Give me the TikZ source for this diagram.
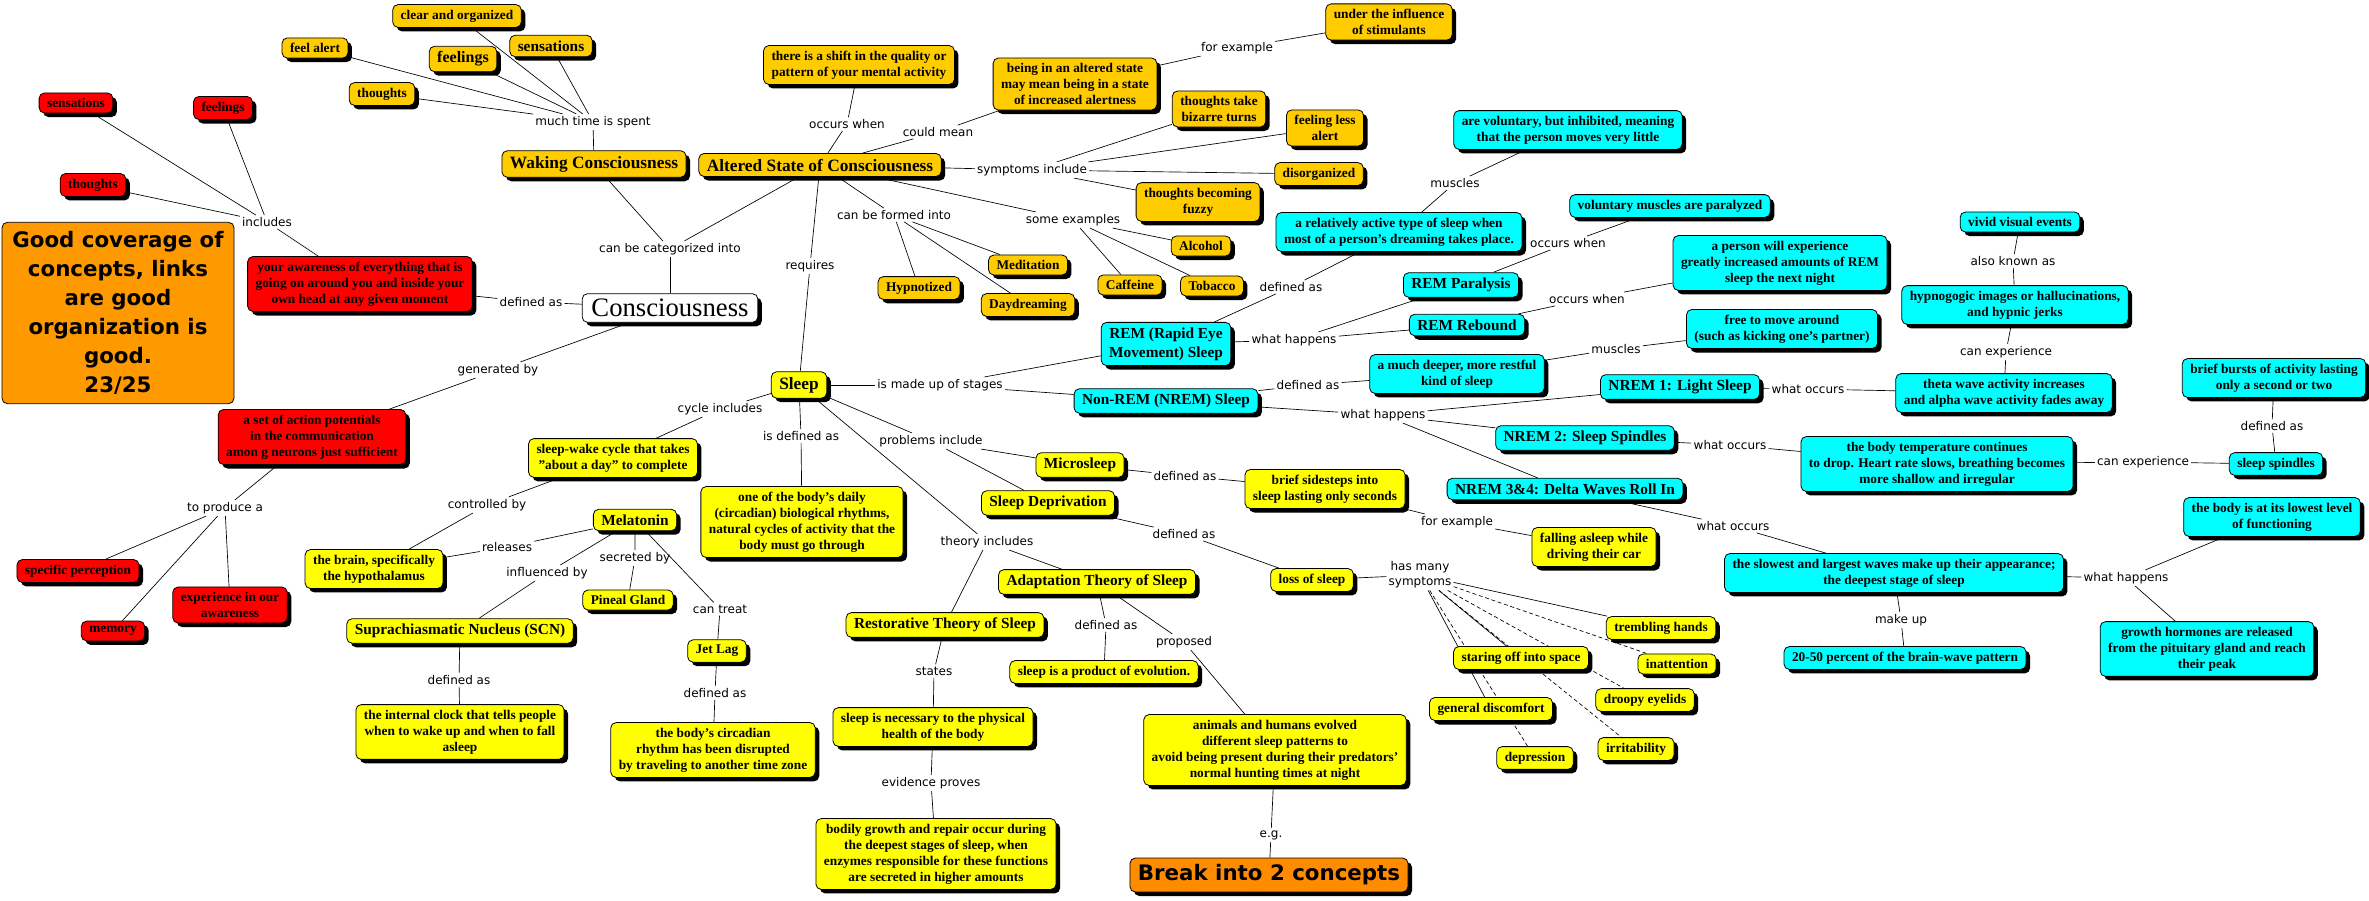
\documentclass[tikz,border=0pt]{standalone}
\usepackage{fontspec}
\setmainfont{Liberation Serif}[Ligatures=Common]
\newfontfamily\linkfont{DejaVu Sans}
\usepackage{tikz}
\usetikzlibrary{shapes,shadows,backgrounds}

\definecolor{goldfill}{RGB}{255,204,0}
\definecolor{redfill}{RGB}{255,0,0}
\definecolor{yellowfill}{RGB}{255,255,0}
\definecolor{cyanfill}{RGB}{0,255,255}
\definecolor{gradeorange}{RGB}{255,153,0}
\definecolor{breakorange}{RGB}{255,140,0}

\begin{document}
\begin{tikzpicture}[x=0.75pt,y=-0.75pt,
    concept/.style={draw=black, line width=0.6pt, rounded corners=4pt, align=center,
      inner xsep=6pt, inner ysep=4pt, font=\bfseries\fontsize{10}{12}\selectfont,
      drop shadow={shadow xshift=3pt, shadow yshift=-3pt, fill=black, opacity=1}},
    goldbox/.style={concept, fill=goldfill},
    redbox/.style={concept, fill=redfill},
    yellowbox/.style={concept, fill=yellowfill},
    cyanbox/.style={concept, fill=cyanfill},
    bigtext/.style={font=\bfseries\fontsize{13}{15}\selectfont},
    midtext/.style={font=\bfseries\fontsize{11.5}{14}\selectfont},
    phrase/.style={font=\linkfont\fontsize{9}{11}\selectfont, inner sep=1.5pt, align=center},
    wire/.style={line width=0.5pt},
    dotwire/.style={wire, dash pattern=on 3pt off 2pt}]

  \useasboundingbox (0,0) rectangle (2369,900);

  % grade
  \node[draw=black, line width=0.6pt, rounded corners=4pt, fill=gradeorange, align=center,
        minimum width=174pt, minimum height=136pt,
        font=\linkfont\bfseries\fontsize{16}{21.75}\selectfont] (grade) at (118,313)
        {Good coverage of\\concepts, links\\are good\\organization is\\good.\\23/25};

  % consciousness
  \node[concept, fill=white, inner xsep=7pt, font=\fontsize{20}{24}\selectfont] (consc) at (670,308) {Consciousness};
  \node[phrase] (ldefc) at (531,302) {defined as};
  \node[redbox] (aware) at (360,284) {your awareness of everything that is\\going on around you and inside your\\own head at any given moment};
  \node[phrase] (lincl) at (267,222) {includes};
  \node[redbox] (sensR) at (76,103) {sensations};
  \node[redbox] (feelR) at (223,108) {feelings};
  \node[redbox] (thoughtR) at (93,185) {thoughts};
  \node[phrase] (lgen) at (498,370) {generated by};
  \node[redbox] (actpot) at (312,437) {a set of action potentials\\in the communication\\amon g neurons just sufficient};
  \node[phrase] (lprod) at (225,508) {to produce a};
  \node[redbox] (percept) at (78,571) {specific perception};
  \node[redbox] (memory) at (113,631) {memory};
  \node[redbox] (experience) at (230,605) {experience in our\\awareness};
  \node[phrase] (lcateg) at (670,249) {can be categorized into};

  % waking consciousness
  \node[goldbox, bigtext] (waking) at (594,164) {Waking Consciousness};
  \node[phrase] (lmuch) at (593,122) {much time is spent};
  \node[goldbox] (clear) at (457,16) {clear and organized};
  \node[goldbox] (feelalert) at (315,48) {feel alert};
  \node[goldbox, font=\bfseries\fontsize{12}{14}\selectfont] (feelingsA) at (463,59) {feelings};
  \node[goldbox, font=\bfseries\fontsize{11.5}{14}\selectfont] (sensationsA) at (551,46) {sensations};
  \node[goldbox] (thoughtsA) at (382,94) {thoughts};

  % altered state
  \node[goldbox, bigtext] (altered) at (820,165) {Altered State of Consciousness};
  \node[phrase] (loccur) at (847,124) {occurs when};
  \node[goldbox] (shift) at (859,65) {there is a shift in the quality or\\pattern of your mental activity};
  \node[phrase] (lcould) at (938,132) {could mean};
  \node[goldbox] (altmean) at (1075,84) {being in an altered state\\may mean being in a state\\of increased alertness};
  \node[phrase] (lforex) at (1237,48) {for example};
  \node[goldbox] (stimulants) at (1389,22) {under the influence\\of stimulants};
  \node[phrase] (lsympt) at (1032,170) {symptoms include};
  \node[goldbox] (bizarre) at (1219,109) {thoughts take\\bizarre turns};
  \node[goldbox] (lessalert) at (1325,128) {feeling less\\alert};
  \node[goldbox] (disorg) at (1319,174) {disorganized};
  \node[goldbox] (fuzzy) at (1198,202) {thoughts becoming\\fuzzy};
  \node[phrase] (lexamp) at (1073,220) {some examples};
  \node[goldbox] (alcohol) at (1201,246) {Alcohol};
  \node[goldbox] (caffeine) at (1130,285) {Caffeine};
  \node[goldbox] (tobacco) at (1212,286) {Tobacco};
  \node[phrase] (lformed) at (894,215) {can be formed into};
  \node[goldbox] (meditation) at (1028,265) {Meditation};
  \node[goldbox] (hypnotized) at (919,288) {Hypnotized};
  \node[goldbox] (daydream) at (1028,305) {Daydreaming};
  \node[phrase] (lreq) at (810,266) {requires};

  % sleep
  \node[yellowbox, bigtext] (sleep) at (799,385) {Sleep};
  \node[phrase] (lstages) at (940,385) {is made up of stages};
  \node[phrase] (lcycle) at (720,409) {cycle includes};
  \node[yellowbox] (sleepwake) at (613,458) {sleep-wake cycle that takes\\"about a day" to complete};
  \node[phrase] (lctrl) at (487,505) {controlled by};
  \node[yellowbox] (brain) at (374,569) {the brain, specifically\\the hypothalamus};
  \node[phrase] (lrel) at (507,547) {releases};
  \node[yellowbox, midtext] (melatonin) at (635,520) {Melatonin};
  \node[phrase] (linfl) at (547,573) {influenced by};
  \node[yellowbox, midtext] (scn) at (460,631) {Suprachiasmatic Nucleus (SCN)};
  \node[phrase] (ldefscn) at (459,680) {defined as};
  \node[yellowbox] (clock) at (460,732) {the internal clock that tells people\\when to wake up and when to fall\\asleep};
  \node[phrase] (lsecr) at (635,558) {secreted by};
  \node[yellowbox] (pineal) at (628,600) {Pineal Gland};
  \node[phrase] (ltreat) at (720,609) {can treat};
  \node[yellowbox] (jetlag) at (717,651) {Jet Lag};
  \node[phrase] (ldefjet) at (715,693) {defined as};
  \node[yellowbox] (circadian) at (713,750) {the body's circadian\\rhythm has been disrupted\\by traveling to another time zone};
  \node[phrase] (lisdef) at (801,436) {is defined as};
  \node[yellowbox] (daily) at (802,522) {one of the body's daily\\(circadian) biological rhythms,\\natural cycles of activity that the\\body must go through};
  \node[phrase] (lprob) at (931,441) {problems include};
  \node[yellowbox, midtext] (microsleep) at (1080,465) {Microsleep};
  \node[yellowbox, midtext] (sleepdep) at (1048,503) {Sleep Deprivation};
  \node[phrase] (ldefmic) at (1185,476) {defined as};
  \node[yellowbox] (sidesteps) at (1325,489) {brief sidesteps into\\sleep lasting only seconds};
  \node[phrase] (lforexB) at (1457,522) {for example};
  \node[yellowbox] (driving) at (1594,547) {falling asleep while\\driving their car};
  \node[phrase] (ldefdep) at (1184,534) {defined as};
  \node[yellowbox] (loss) at (1312,580) {loss of sleep};
  \node[phrase] (lsymp) at (1420,575) {has many\\symptoms};
  \node[yellowbox] (trembling) at (1661,628) {trembling hands};
  \node[yellowbox] (staring) at (1521,658) {staring off into space};
  \node[yellowbox] (inattention) at (1677,664) {inattention};
  \node[yellowbox] (droopy) at (1645,700) {droopy eyelids};
  \node[yellowbox] (discomfort) at (1491,709) {general discomfort};
  \node[yellowbox] (irritability) at (1636,749) {irritability};
  \node[yellowbox] (depression) at (1535,758) {depression};

  % theories
  \node[phrase] (ltheory) at (987,542) {theory includes};
  \node[yellowbox, midtext] (restor) at (945,625) {Restorative Theory of Sleep};
  \node[phrase] (lstates) at (934,671) {states};
  \node[yellowbox] (necessary) at (933,727) {sleep is necessary to the physical\\health of the body};
  \node[phrase] (levid) at (931,783) {evidence proves};
  \node[yellowbox] (bodily) at (936,854) {bodily growth and repair occur during\\the deepest stages of sleep, when\\enzymes responsible for these functions\\are secreted in higher amounts};
  \node[yellowbox, midtext] (adapt) at (1097,582) {Adaptation Theory of Sleep};
  \node[phrase] (ldefad) at (1106,625) {defined as};
  \node[yellowbox] (evolution) at (1104,672) {sleep is a product of evolution.};
  \node[phrase] (lprop) at (1184,642) {proposed};
  \node[yellowbox] (animals) at (1275,750) {animals and humans evolved\\different sleep patterns to\\avoid being present during their predators'\\normal hunting times at night};
  \node[phrase] (leg) at (1271,835) {e.g.};
  \node[concept, fill=breakorange, font=\linkfont\bfseries\fontsize{16}{19}\selectfont, inner ysep=5pt] (breakbox) at (1269,875) {Break into 2 concepts};

  % REM
  \node[cyanbox, midtext] (rem) at (1166,344) {REM (Rapid Eye\\Movement) Sleep};
  \node[phrase] (ldefrem) at (1291,287) {defined as};
  \node[cyanbox] (remdef) at (1399,232) {a relatively active type of sleep when\\most of a person's dreaming takes place.};
  \node[phrase] (lremmusc) at (1455,183) {muscles};
  \node[cyanbox] (remmusc) at (1568,130) {are voluntary, but inhibited, meaning\\that the person moves very little};
  \node[phrase] (lremhap) at (1294,340) {what happens};
  \node[cyanbox, midtext] (remparal) at (1461,285) {REM Paralysis};
  \node[phrase] (loccpar) at (1568,243) {occurs when};
  \node[cyanbox] (paralyzed) at (1670,206) {voluntary muscles are paralyzed};
  \node[cyanbox, midtext] (rebound) at (1467,325) {REM Rebound};
  \node[phrase] (loccreb) at (1587,299) {occurs when};
  \node[cyanbox] (rebdef) at (1780,263) {a person will experience\\greatly increased amounts of REM\\sleep the next night};

  % non-REM
  \node[cyanbox, midtext] (nrem) at (1166,401) {Non-REM (NREM) Sleep};
  \node[phrase] (ldefnrem) at (1308,385) {defined as};
  \node[cyanbox] (nremdef) at (1457,374) {a much deeper, more restful\\kind of sleep};
  \node[phrase] (lnremmusc) at (1616,349) {muscles};
  \node[cyanbox] (freemove) at (1782,329) {free to move around\\(such as kicking one's partner)};
  \node[phrase] (lnremhap) at (1383,415) {what happens};
  \node[cyanbox, midtext] (nremA) at (1680,387) {NREM 1: Light Sleep};
  \node[phrase] (lwoccA) at (1808,389) {what occurs};
  \node[cyanbox] (theta) at (2004,393) {theta wave activity increases\\and alpha wave activity fades away};
  \node[phrase] (lexpA) at (2006,352) {can experience};
  \node[cyanbox] (hypno) at (2015,305) {hypnogogic images or hallucinations,\\and hypnic jerks};
  \node[phrase] (laka) at (2013,261) {also known as};
  \node[cyanbox] (vivid) at (2020,222) {vivid visual events};
  \node[cyanbox, midtext] (nremB) at (1585,438) {NREM 2: Sleep Spindles};
  \node[phrase] (lwoccB) at (1730,445) {what occurs};
  \node[cyanbox] (bodytemp) at (1937,464) {the body temperature continues\\to drop. Heart rate slows, breathing becomes\\more shallow and irregular};
  \node[phrase] (lexpB) at (2143,462) {can experience};
  \node[cyanbox] (spindles) at (2276,464) {sleep spindles};
  \node[phrase] (ldefsp) at (2272,426) {defined as};
  \node[cyanbox] (bursts) at (2274,378) {brief bursts of activity lasting\\only a second or two};
  \node[cyanbox, midtext] (nremC) at (1565,489) {NREM 3\&4: Delta Waves Roll In};
  \node[phrase] (lwoccC) at (1733,526) {what occurs};
  \node[cyanbox] (slowest) at (1894,573) {the slowest and largest waves make up their appearance;\\the deepest stage of sleep};
  \node[phrase] (lmake) at (1901,620) {make up};
  \node[cyanbox] (percent) at (1905,658) {20-50 percent of the brain-wave pattern};
  \node[phrase] (lwhapC) at (2126,578) {what happens};
  \node[cyanbox] (lowest) at (2272,517) {the body is at its lowest level\\of functioning};
  \node[cyanbox] (hormones) at (2207,649) {growth hormones are released\\from the pituitary gland and reach\\their peak};

  % links
  \begin{scope}[on background layer]
    \draw[wire] (consc) -- (ldefc) -- (aware);
    \draw[wire] (aware) -- (lincl);
    \foreach \t in {sensR,feelR,thoughtR} \draw[wire] (lincl) -- (\t);
    \draw[wire] (consc) -- (lgen) -- (actpot) -- (lprod);
    \foreach \t in {percept,memory,experience} \draw[wire] (lprod) -- (\t);
    \draw[wire] (consc) -- (lcateg);
    \foreach \t in {waking,altered} \draw[wire] (lcateg) -- (\t);
    \draw[wire] (waking) -- (lmuch);
    \foreach \t in {clear,feelalert,feelingsA,sensationsA,thoughtsA} \draw[wire] (lmuch) -- (\t);
    \draw[wire] (altered) -- (loccur) -- (shift);
    \draw[wire] (altered) -- (lcould) -- (altmean) -- (lforex) -- (stimulants);
    \draw[wire] (altered) -- (lsympt);
    \foreach \t in {bizarre,lessalert,disorg,fuzzy} \draw[wire] (lsympt) -- (\t);
    \draw[wire] (altered) -- (lexamp);
    \foreach \t in {alcohol,caffeine,tobacco} \draw[wire] (lexamp) -- (\t);
    \draw[wire] (altered) -- (lformed);
    \foreach \t in {meditation,hypnotized,daydream} \draw[wire] (lformed) -- (\t);
    \draw[wire] (altered) -- (lreq) -- (sleep);
    % sleep side
    \draw[wire] (sleep) -- (lcycle) -- (sleepwake) -- (lctrl) -- (brain) -- (lrel) -- (melatonin);
    \draw[wire] (melatonin) -- (linfl) -- (scn) -- (ldefscn) -- (clock);
    \draw[wire] (melatonin) -- (lsecr) -- (pineal);
    \draw[wire] (melatonin) -- (ltreat) -- (jetlag) -- (ldefjet) -- (circadian);
    \draw[wire] (sleep) -- (lisdef) -- (daily);
    \draw[wire] (sleep) -- (lprob);
    \foreach \t in {microsleep,sleepdep} \draw[wire] (lprob) -- (\t);
    \draw[wire] (microsleep) -- (ldefmic) -- (sidesteps) -- (lforexB) -- (driving);
    \draw[wire] (sleepdep) -- (ldefdep) -- (loss) -- (lsymp);
    \foreach \t in {trembling,staring,discomfort} \draw[wire] (lsymp) -- (\t);
    \foreach \t in {inattention,droopy,irritability,depression} \draw[dotwire] (lsymp) -- (\t);
    \draw[wire] (sleep) -- (ltheory);
    \foreach \t in {restor,adapt} \draw[wire] (ltheory) -- (\t);
    \draw[wire] (restor) -- (lstates) -- (necessary) -- (levid) -- (bodily);
    \draw[wire] (adapt) -- (ldefad) -- (evolution);
    \draw[wire] (adapt) -- (lprop) -- (animals) -- (leg) -- (breakbox);
    % stages
    \draw[wire] (sleep) -- (lstages);
    \foreach \t in {rem,nrem} \draw[wire] (lstages) -- (\t);
    \draw[wire] (rem) -- (ldefrem) -- (remdef) -- (lremmusc) -- (remmusc);
    \draw[wire] (rem) -- (lremhap);
    \foreach \t in {remparal,rebound} \draw[wire] (lremhap) -- (\t);
    \draw[wire] (remparal) -- (loccpar) -- (paralyzed);
    \draw[wire] (rebound) -- (loccreb) -- (rebdef);
    \draw[wire] (nrem) -- (ldefnrem) -- (nremdef) -- (lnremmusc) -- (freemove);
    \draw[wire] (nrem) -- (lnremhap);
    \foreach \t in {nremA,nremB,nremC} \draw[wire] (lnremhap) -- (\t);
    \draw[wire] (nremA) -- (lwoccA) -- (theta) -- (lexpA) -- (hypno) -- (laka) -- (vivid);
    \draw[wire] (nremB) -- (lwoccB) -- (bodytemp) -- (lexpB) -- (spindles) -- (ldefsp) -- (bursts);
    \draw[wire] (nremC) -- (lwoccC) -- (slowest) -- (lmake) -- (percent);
    \draw[wire] (slowest) -- (lwhapC);
    \foreach \t in {lowest,hormones} \draw[wire] (lwhapC) -- (\t);
  \end{scope}
\end{tikzpicture}
\end{document}
